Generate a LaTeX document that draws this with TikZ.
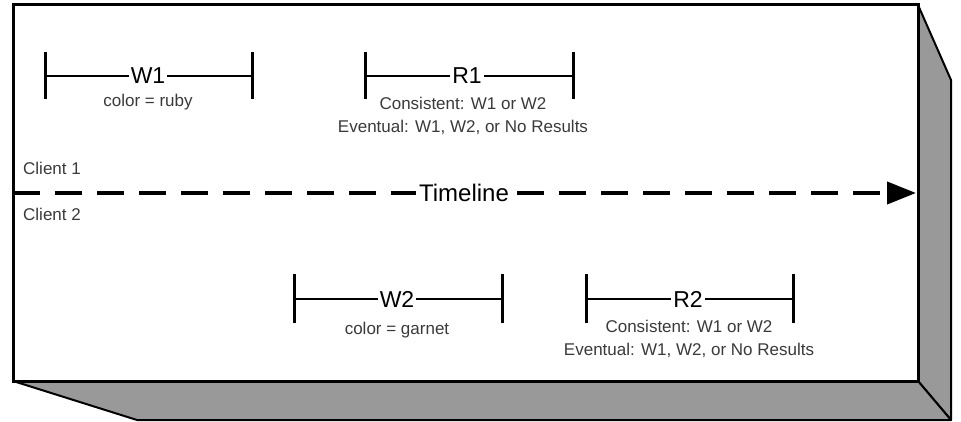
\documentclass[tikz,border=0pt]{standalone}
\usepackage{fontspec}
\setmainfont{Liberation Sans}
\usetikzlibrary{arrows.meta,calc}
\definecolor{sidegray}{HTML}{999999}
\definecolor{notegray}{HTML}{3A3A3A}
\begin{document}
\begin{tikzpicture}[x=1pt,y=-1pt,
  frame/.style={line width=3pt, line join=miter},
  face/.style={fill=sidegray, draw=black, line width=2pt, line join=round},
  bar/.style={line width=2.5pt},
  tickmark/.style={line width=3pt},
  barlabel/.style={fill=white, inner sep=2pt, font=\fontsize{23}{23}\selectfont},
  note/.style={font=\fontsize{17}{23.5}\selectfont, text=notegray, align=center, inner sep=0pt},
  client/.style={font=\fontsize{17}{17}\selectfont, text=notegray, anchor=west, inner sep=0pt},
]
\useasboundingbox (0,0) rectangle (961,422);

% box faces: right side, bottom, then the front panel
\draw[face] (918,5) -- (951,80) -- (951,420) -- (918,381) -- cycle;
\draw[face] (13,381) -- (918,381) -- (951,420) -- (137,420) -- cycle;
\draw[frame, fill=white] (13,5) rectangle (918,381);

% timeline
\coordinate (tl0) at (13,193);
\coordinate (tl1) at (916,193);
\draw[line width=4pt, dash pattern=on 27pt off 15pt,
      -{Triangle[length=29pt,width=22pt]}] (tl0) -- (tl1);
\node[barlabel, inner sep=3pt, font=\fontsize{24}{24}\selectfont] (tl) at (464,193) {Timeline};

\node[client] (c1) at (23,168) {Client 1};
\node[client] (c2) at (23,214) {Client 2};

% W1
\coordinate (w1a) at (45,76);
\coordinate (w1b) at (252,76);
\draw[tickmark] ($(w1a)+(0,-24)$) -- ($(w1a)+(0,23)$);
\draw[tickmark] ($(w1b)+(0,-24)$) -- ($(w1b)+(0,23)$);
\draw[bar] (w1a) -- (w1b);
\node[barlabel] (w1) at (148,76) {W1};
\node[note] (w1n) at (148,102) {color = ruby};

% R1
\coordinate (r1a) at (365,76);
\coordinate (r1b) at (573,76);
\draw[tickmark] ($(r1a)+(0,-24)$) -- ($(r1a)+(0,23)$);
\draw[tickmark] ($(r1b)+(0,-24)$) -- ($(r1b)+(0,23)$);
\draw[bar] (r1a) -- (r1b);
\node[barlabel] (r1) at (467,76) {R1};
\node[note] (r1n) at (463,116) {Consistent: W1 or W2\\Eventual: W1, W2, or No Results};

% W2
\coordinate (w2a) at (294,299);
\coordinate (w2b) at (502,299);
\draw[tickmark] ($(w2a)+(0,-25)$) -- ($(w2a)+(0,24)$);
\draw[tickmark] ($(w2b)+(0,-25)$) -- ($(w2b)+(0,24)$);
\draw[bar] (w2a) -- (w2b);
\node[barlabel] (w2) at (397,299) {W2};
\node[note] (w2n) at (397,330) {color = garnet};

% R2
\coordinate (r2a) at (586,299);
\coordinate (r2b) at (793,299);
\draw[tickmark] ($(r2a)+(0,-25)$) -- ($(r2a)+(0,24)$);
\draw[tickmark] ($(r2b)+(0,-25)$) -- ($(r2b)+(0,24)$);
\draw[bar] (r2a) -- (r2b);
\node[barlabel] (r2) at (688,299) {R2};
\node[note] (r2n) at (689,339) {Consistent: W1 or W2\\Eventual: W1, W2, or No Results};
\end{tikzpicture}
\end{document}
